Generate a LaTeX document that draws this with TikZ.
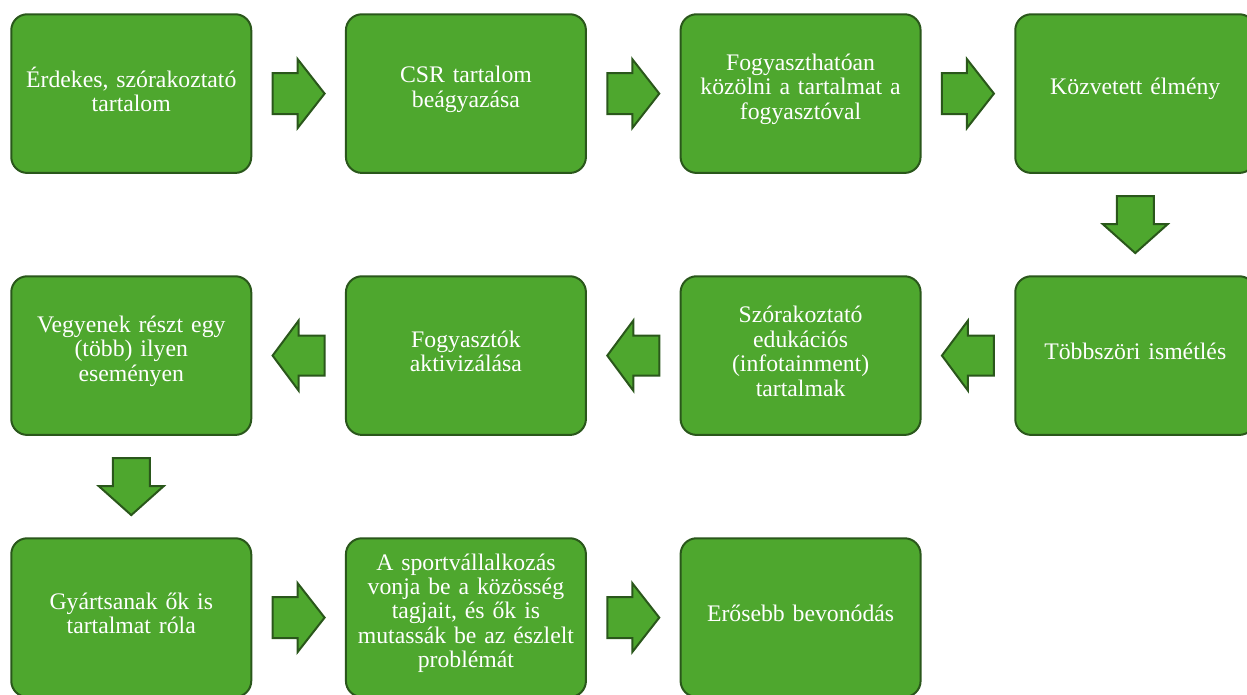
\documentclass[tikz,border=0pt]{standalone}
\usepackage{fontspec}
\setmainfont{Liberation Serif}
\usetikzlibrary{matrix,positioning,calc}
\definecolor{boxgreen}{HTML}{4EA72E}
\definecolor{boxline}{HTML}{2A571B}

% block arrow: centre, angle, length, head length, half shaft, half head
\newcommand{\blockarrow}[6]{%
\begin{scope}[shift={(#1)},rotate=#2]
\draw[arrowshape] (-#3/2,-#5) -- (#3/2-#4,-#5) -- (#3/2-#4,-#6) -- (#3/2,0)
    -- (#3/2-#4,#6) -- (#3/2-#4,#5) -- (-#3/2,#5) -- cycle;
\end{scope}}

\begin{document}
\begin{tikzpicture}[
x=0.75pt,
y=-0.75pt,
box/.style={
    draw=boxline,
    fill=boxgreen,
    line width=1.5pt,
    rounded corners=12pt,
    minimum width=180pt,
    minimum height=119pt,
    text width=165pt,
    align=center,
    text=white,
    anchor=center,
    execute at end node={\endgraf\vspace*{6.5pt}},
    font=\fontsize{17.8}{18.3}\selectfont
},
flow/.style={
    matrix of nodes,
    nodes={box},
    column sep=69.5pt,
    row sep=76pt,
    inner sep=0pt,
    anchor=north west
},
arrowshape/.style={
    draw=boxline,
    fill=boxgreen,
    line width=1.5pt,
    line join=miter
}
]
\useasboundingbox (0,0) rectangle (1247,695);

\matrix[flow] (mat) at (10,13)
{
    {Érdekes, szórakoztató\\tartalom} & {CSR tartalom\\beágyazása} & {Fogyaszthatóan\\közölni a tartalmat a\\fogyasztóval} & Közvetett élmény \\
    {Vegyenek részt egy\\(több) ilyen\\eseményen} & {Fogyasztók\\aktivizálása} & {Szórakoztató\\edukációs\\(infotainment)\\tartalmak} & Többszöri ismétlés \\
    {Gyártsanak ők is\\tartalmat róla} & {A sportvállalkozás\\vonja be a közösség\\tagjait, és ők is\\mutassák be az észlelt\\problémát} & Erősebb bevonódás & \\
};

% right arrows
\foreach \r/\a/\b in {1/1/2,1/2/3,1/3/4,3/1/2,3/2/3}
{\coordinate (c) at ($(mat-\r-\a.east)!0.5!(mat-\r-\b.west)$);
 \blockarrow{c}{0}{52}{27}{20.5}{34.5}
}
% left arrows
\foreach \a/\b in {4/3,3/2,2/1}
{\coordinate (c) at ($(mat-2-\a.west)!0.5!(mat-2-\b.east)$);
 \blockarrow{c}{180}{52}{26}{20}{35}
}
% down arrows
\foreach \r/\c in {1/4,2/1}
{\coordinate (c) at ($(mat-\r-\c.south)!0.5!(mat-\the\numexpr\r+1\relax-\c.north)$);
 \blockarrow{c}{-90}{57}{29}{18.5}{32.5}
}
\end{tikzpicture}
\end{document}
